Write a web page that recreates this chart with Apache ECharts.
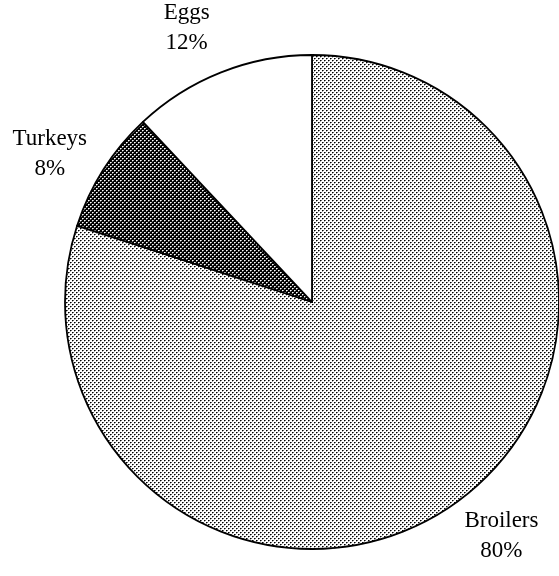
<!DOCTYPE html>
<html lang="en">
<head>
    <meta charset="UTF-8">
    <script type="text/javascript" src="https://cdn.jsdelivr.net/npm/echarts@6/dist/echarts.min.js"></script>
    <title>poultry</title>
    <style>
        html, body { margin: 0; padding: 0; background: #fff; }
        #graph_1 { width: 559px; height: 576px; }
    </style>
</head>
<body>
<div id="graph_1"></div>
<script type="text/javascript">
    // 数据
    var categories = ['Broilers', 'Turkeys', 'Eggs'];
    var shares = [80, 8, 12];

    var cx = 312, cy = 302, r = 247;

    // 点阵填充
    function makePattern(bg, dots, size) {
        var c = document.createElement('canvas');
        c.width = size;
        c.height = size;
        var ctx = c.getContext('2d');
        ctx.fillStyle = bg;
        ctx.fillRect(0, 0, size, size);
        dots.forEach(function (d) {
            ctx.fillStyle = d[2];
            ctx.fillRect(d[0], d[1], 1, 1);
        });
        return { image: c, repeat: 'repeat' };
    }
    var fills = [
        makePattern('#ffffff', [[0, 0, '#000'], [2, 2, '#000'], [1, 0, '#666'], [3, 2, '#666'], [0, 1, '#aaa'], [2, 3, '#aaa']], 4),
        makePattern('#000000', [[0, 0, '#fff'], [2, 2, '#fff'], [1, 0, '#aaa'], [3, 2, '#aaa'], [0, 1, '#666'], [2, 3, '#666']], 4),
        '#ffffff'
    ];

    var total = shares.reduce(function (a, b) { return a + b; }, 0);

    var chart_1 = echarts.init(document.getElementById('graph_1'), null, {
        renderer: 'canvas'
    });
    chart_1.setOption({
        backgroundColor: '#fff',
        animation: false,
        series: [{
            type: 'pie',
            center: [cx, cy],
            radius: r,
            startAngle: 90,
            clockwise: true,
            avoidLabelOverlap: false,
            data: categories.map(function (name, i) {
                return { name: name, value: shares[i], itemStyle: { color: fills[i] } };
            }),
            itemStyle: {
                borderColor: '#000',
                borderWidth: 1.8
            },
            emphasis: { disabled: true },
            label: {
                show: true,
                position: 'outside',
                formatter: function (p) { return p.name + '\n' + p.value + '%'; },
                fontFamily: '"Liberation Serif", "Times New Roman", serif',
                fontSize: 23,
                lineHeight: 30,
                color: '#000'
            },
            labelLine: { show: false },
            labelLayout: function (params) {
                var i = params.dataIndex;
                var before = 0;
                for (var k = 0; k < i; k++) before += shares[k];
                // 标签略偏逆时针
                var mid = (before + shares[i] / 2) / total * Math.PI * 2 - 3 * Math.PI / 180;
                var d = 301;
                return {
                    x: cx + d * Math.sin(mid),
                    y: cy - d * Math.cos(mid),
                    align: 'center',
                    verticalAlign: 'middle'
                };
            }
        }]
    });
</script>
</body>
</html>
